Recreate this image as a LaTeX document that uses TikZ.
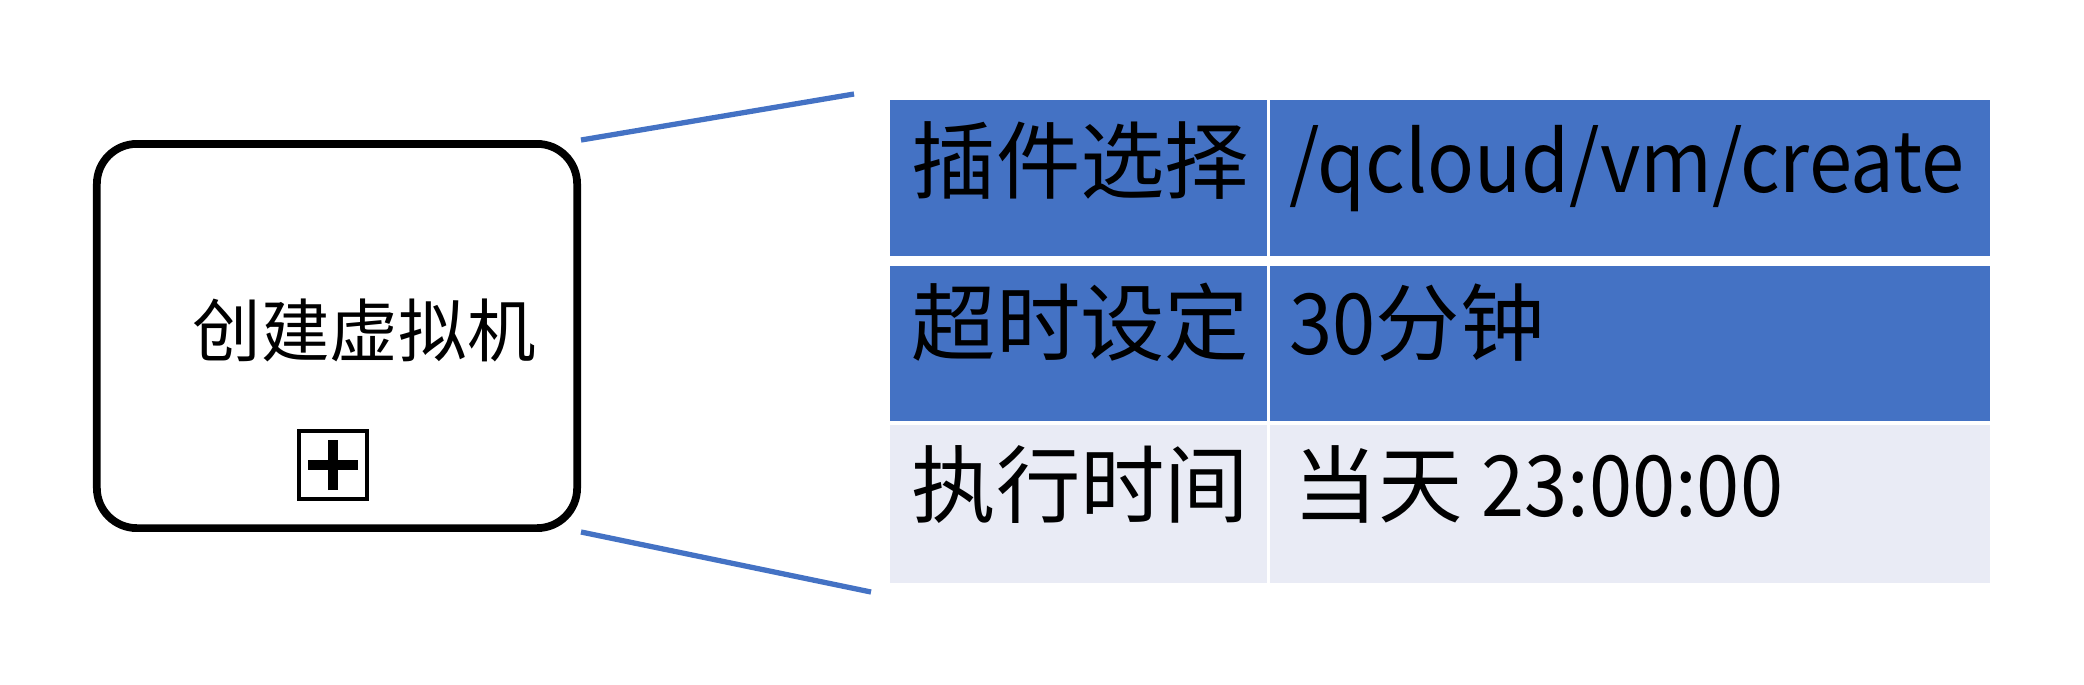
\documentclass[tikz,border=0pt]{standalone}
\usepackage{fontspec}
\setmainfont{Noto Sans CJK SC}
\newfontfamily\narrowlatin[FakeStretch=0.92]{Noto Sans CJK SC}
\usepackage{tikz}
\definecolor{cellblue}{HTML}{4472C4}
\definecolor{celllight}{HTML}{E9EBF5}

\begin{document}
\begin{tikzpicture}[x=0.01cm,y=-0.01cm,
  cell/.style={anchor=north west,inner sep=0pt,outer sep=0pt},
  celltext/.style={anchor=base west,inner sep=0pt,font=\fontsize{24}{28}\selectfont},
  zoomline/.style={draw=cellblue,line width=1.5pt}]
 \useasboundingbox (0,0) rectangle (2084,684);
 \node[draw,line width=2.2pt,rounded corners=0.4cm,minimum width=4.8cm,minimum height=3.84cm,
  inner sep=0pt,outer sep=1.1pt] (task) at (337,336) {};
 \node[anchor=base west,inner sep=0pt,font=\fontsize{19.5}{22}\selectfont] (tasklabel) at (192,356) {创建虚拟机};
 \node[draw,line width=1.3pt,minimum size=0.68cm,inner sep=0pt] (expand) at (333,465) {};
 \draw[line width=2.6pt] ([xshift=-0.25cm]expand.center) -- ([xshift=0.25cm]expand.center);
 \draw[line width=2.6pt] ([yshift=-0.25cm]expand.center) -- ([yshift=0.25cm]expand.center);

 \node[cell,fill=cellblue,minimum width=3.77cm,minimum height=1.56cm] (c11) at (890,100) {};
 \node[cell,fill=cellblue,minimum width=7.20cm,minimum height=1.56cm] (c12) at (1270,100) {};
 \node[cell,fill=cellblue,minimum width=3.77cm,minimum height=1.55cm] (c21) at (890,266) {};
 \node[cell,fill=cellblue,minimum width=7.20cm,minimum height=1.55cm] (c22) at (1270,266) {};
 \node[cell,fill=celllight,minimum width=3.77cm,minimum height=1.58cm] (c31) at (890,425) {};
 \node[cell,fill=celllight,minimum width=7.20cm,minimum height=1.58cm] (c32) at (1270,425) {};

 \node[celltext] (t11) at (911,192) {插件选择};
 \node[celltext] (t12) at (1289,192) {\narrowlatin /qcloud/vm/create};
 \node[celltext] (t21) at (911,354) {超时设定};
 \node[celltext] (t22) at (1289,354) {{\narrowlatin 30}分钟};
 \node[celltext] (t31) at (911,516) {执行时间};
 \node[celltext] (t32) at (1293,516) {当天 {\narrowlatin 23:00:00}};

 \coordinate (zoomtop) at (854,94);
 \coordinate (zoombottom) at (871,592);
 \draw[zoomline] (task.north east) -- (zoomtop);
 \draw[zoomline] (task.south east) -- (zoombottom);
\end{tikzpicture}
\end{document}
